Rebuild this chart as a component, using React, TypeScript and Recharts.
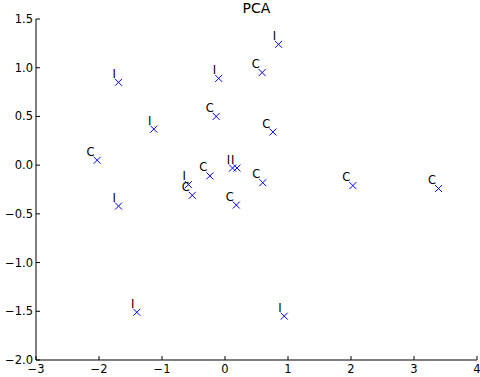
import { ScatterChart, Scatter, XAxis, YAxis } from "recharts";

const xs = [-2.03, -1.69, -1.13, -0.1, -0.14, -0.24, -0.58, -0.52, 0.12, 0.19, 0.18, 0.85, 0.59, 0.76, 0.6, 2.03, 3.39, 0.94, -1.4, -1.69];
const ys = [0.05, 0.85, 0.37, 0.89, 0.5, -0.11, -0.2, -0.31, -0.03, -0.03, -0.41, 1.24, 0.95, 0.34, -0.18, -0.21, -0.24, -1.55, -1.51, -0.42];
const labels = ["C", "I", "I", "I", "C", "C", "I", "C", "I", "I", "C", "I", "C", "C", "C", "C", "C", "I", "I", "I"];

const xTicks = [-3, -2, -1, 0, 1, 2, 3, 4];
const yTicks = [-2.0, -1.5, -1.0, -0.5, 0.0, 0.5, 1.0, 1.5];

const points = xs.map((x, i) => ({ x, y: ys[i], label: labels[i] }));

const FONT = "'DejaVu Sans', sans-serif";
const minus = (s: string) => s.replace("-", "\u2212");

const Cross = (props: any) => {
  const { cx, cy, payload } = props;
  const r = 3.5;
  return (
    <g>
      <line x1={cx - r} y1={cy - r} x2={cx + r} y2={cy + r} stroke="#0000ff" strokeWidth={1} />
      <line x1={cx - r} y1={cy + r} x2={cx + r} y2={cy - r} stroke="#0000ff" strokeWidth={1} />
      <text x={cx - 2.5} y={cy - 4.5} textAnchor="end" fontSize={11.5} fontFamily={FONT} fill="#000">
        {payload.label}
      </text>
    </g>
  );
};

const BottomTick = (props: any) => {
  const { x, y, payload } = props;
  return (
    <g>
      <line x1={x} y1={y} x2={x} y2={y - 4} stroke="#000" />
      <text x={x} y={y + 13} textAnchor="middle" fontSize={11.5} fontFamily={FONT} fill="#000">
        {minus(String(payload.value))}
      </text>
    </g>
  );
};

const TopTick = (props: any) => {
  const { x, y } = props;
  return <line x1={x} y1={y} x2={x} y2={y + 4} stroke="#000" />;
};

const LeftTick = (props: any) => {
  const { x, y, payload } = props;
  return (
    <g>
      <line x1={x} y1={y} x2={x + 4} y2={y} stroke="#000" />
      <text x={x - 3} y={y + 4} textAnchor="end" fontSize={11.5} fontFamily={FONT} fill="#000">
        {minus(Number(payload.value).toFixed(1))}
      </text>
    </g>
  );
};

const RightTick = (props: any) => {
  const { x, y } = props;
  return <line x1={x} y1={y} x2={x - 4} y2={y} stroke="#000" />;
};

export default function App() {
  return (
    <div style={{ position: "absolute", left: 0, top: 0, width: 480, height: 377, background: "#fff" }}>
      <div
        style={{
          position: "absolute",
          left: 36,
          width: 441,
          top: 0,
          textAlign: "center",
          fontFamily: FONT,
          fontSize: 14,
          color: "#000",
        }}
      >
        PCA
      </div>
      <ScatterChart width={480} height={377} margin={{ top: 19, right: 3, bottom: 0, left: 0 }}>
        <XAxis
          xAxisId="b"
          type="number"
          dataKey="x"
          domain={[-3, 4]}
          ticks={xTicks}
          allowDataOverflow
          height={17}
          tickSize={0}
          tickMargin={0}
          tickLine={false}
          axisLine={{ stroke: "#000" }}
          tick={<BottomTick />}
          interval={0}
        />
        <XAxis
          xAxisId="t"
          orientation="top"
          type="number"
          dataKey="x"
          domain={[-3, 4]}
          ticks={xTicks}
          allowDataOverflow
          height={0}
          tickSize={0}
          tickMargin={0}
          tickLine={false}
          axisLine={{ stroke: "#000" }}
          tick={<TopTick />}
          interval={0}
        />
        <YAxis
          yAxisId="l"
          type="number"
          dataKey="y"
          domain={[-2, 1.5]}
          ticks={yTicks}
          allowDataOverflow
          width={36}
          tickSize={0}
          tickMargin={0}
          tickLine={false}
          axisLine={{ stroke: "#000" }}
          tick={<LeftTick />}
          interval={0}
        />
        <YAxis
          yAxisId="r"
          orientation="right"
          type="number"
          dataKey="y"
          domain={[-2, 1.5]}
          ticks={yTicks}
          allowDataOverflow
          width={0}
          tickSize={0}
          tickMargin={0}
          tickLine={false}
          axisLine={{ stroke: "#000" }}
          tick={<RightTick />}
          interval={0}
        />
        <Scatter
          data={points}
          xAxisId="b"
          yAxisId="l"
          shape={<Cross />}
          isAnimationActive={false}
        />
        <Scatter
          data={points}
          xAxisId="t"
          yAxisId="r"
          shape={() => <g />}
          isAnimationActive={false}
        />
      </ScatterChart>
    </div>
  );
}
